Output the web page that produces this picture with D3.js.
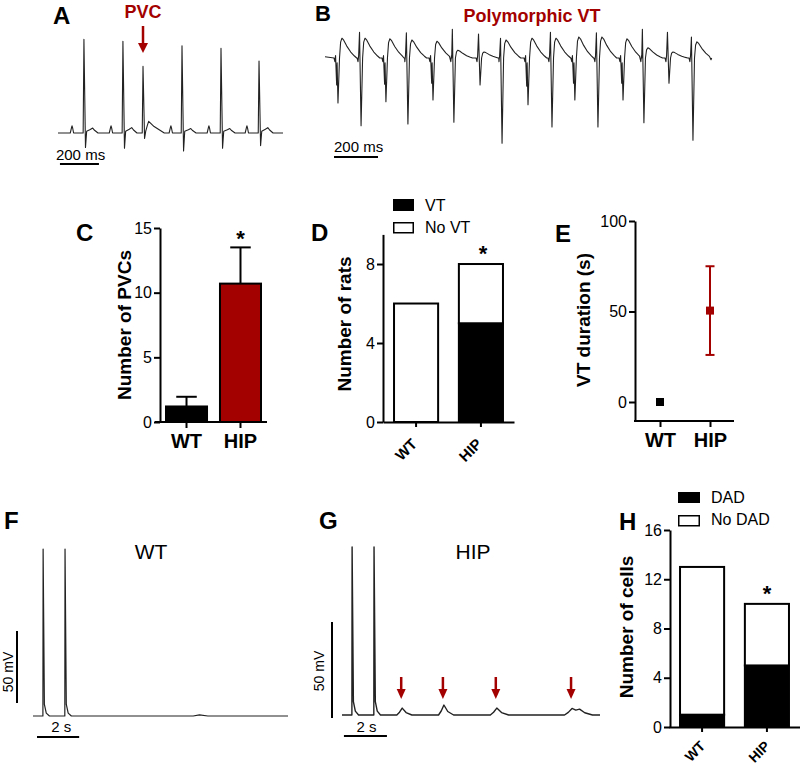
<!DOCTYPE html>
<html><head><meta charset="utf-8">
<script src="https://cdn.jsdelivr.net/npm/d3@7"></script>
<style>body{margin:0;background:#fff}svg{display:block}text{font-family:"Liberation Sans",Arial,sans-serif}</style>
</head><body><svg id="fig" width="800" height="767"></svg>
<script>
// ---------------- DATA ----------------
const groups = ["WT", "HIP"];
// C: number of PVCs (mean, SEM)
const pvcMean = [1.2, 10.7];
const pvcSem = [0.75, 2.8];
const pvcTicks = [0, 5, 10, 15];
// D: rats with / without VT
const ratsVT = [0, 5];
const ratsNoVT = [6, 3];
const ratTicks = [0, 4, 8];
// E: VT duration (s)
const vtDurMean = [0, 50.5];
const vtDurSem = [0, 24.5];
const durTicks = [0, 50, 100];
// H: cells with / without DAD
const cellsDAD = [1, 5];
const cellsNoDAD = [12, 5];
const cellTicks = [0, 4, 8, 12, 16];

// A: ECG with PVC (time ms, amplitude mV)
const ecgA_span = [0, 1154];
const ecgA_time = [133, 333, 436, 636, 836, 1031];
const ecgA_R = [1.04, 1.02, 0.74, 0.97, 0.94, 0.80];
const ecgA_S = [-0.16, -0.17, -0.06, -0.20, -0.17, -0.14];
const ecgA_Ttime = [178, 378, 465, 681, 881, 1076];
const ecgA_Tamp = [0.055, 0.06, 0.13, 0.05, 0.05, 0.06];
const ecgA_Tend = [205, 405, 545, 708, 908, 1103];
const ecgA_Ptime = [72, 272, 579, 774, 969];
const ecgA_Pamp = [0.08, 0.08, 0.08, 0.08, 0.08];

// B: polymorphic VT (time ms, amplitude mV)
const ecgB_span = [0, 1755];
const ecgB_time = [59, 164, 277, 377, 491, 586, 705, 805, 923, 1032, 1136, 1241, 1355, 1450, 1564, 1673];
const ecgB_up = [0, 0.43, 0, 0.42, 0, 0.48, 0.40, 0.33, 0, 0.43, 0, 0.42, 0, 0.48, 0.43, 0.35];
const ecgB_down = [-0.75, -1.13, -0.73, -1.10, -0.70, -1.07, -0.45, -1.42, -0.78, -1.15, -0.70, -1.15, -0.70, -1.08, -0.42, -1.37];
const ecgB_hump = [0.33, 0.33, 0.32, 0.30, 0.28, 0.13, 0.10, 0.30, 0.33, 0.33, 0.35, 0.35, 0.32, 0.17, 0.10, 0.27];

// F: WT myocyte membrane potential (time s, mV)
const apF_span = [0, 12.1];
const apF_rest = -80;
const apF_time = [0.48, 1.52];
const apF_peak = [36, 36];
const bumpF_time = [7.9];
const bumpF_amp = [0.8];

// G: HIP myocyte membrane potential (time s, mV)
const apG_span = [0, 12];
const apG_rest = -80;
const apG_time = [0.47, 1.49];
const apG_peak = [7.5, 7.5];
const dadG_time = [2.8, 4.74, 7.2, 10.7];
const dadG_amp = [3.6, 5.2, 3.6, 3.4];
const dadG_rise = [0.25, 0.25, 0.3, 0.35];
const dadG_fall = [0.45, 0.45, 0.55, 0.6];
const dadG_plateau = [0, 0, 0, 0.35];

// ---------------- DRAWING ----------------
const svg = d3.select("#fig");
const RED = "#a30000";
const FONT = "Liberation Sans, Arial, sans-serif";

function letter(t, x, y, size) {
  svg.append("text").attr("x", x).attr("y", y).attr("font-size", size || 24)
    .attr("font-weight", "bold").text(t);
}
function ylabel(t, x, y) {
  svg.append("text").attr("transform", `translate(${x},${y}) rotate(-90)`)
    .attr("text-anchor", "middle").attr("font-size", 19).attr("font-weight", "bold").text(t);
}
function styleAxis(g) {
  g.attr("font-family", FONT).attr("font-size", 16);
  g.selectAll("path.domain").attr("stroke", "#000").attr("stroke-width", 2);
  g.selectAll(".tick line").attr("stroke", "#000").attr("stroke-width", 2);
  g.selectAll(".tick text").attr("fill", "#000");
}
function yAxis(scale, ticks, x) {
  const g = svg.append("g").attr("transform", `translate(${x},0)`)
    .call(d3.axisLeft(scale).tickValues(ticks).tickSize(6).tickSizeOuter(0).tickPadding(2));
  styleAxis(g);
  return g;
}
function trace(points, xs, ys, width) {
  const line = d3.line().x(d => xs(d[0])).y(d => ys(d[1]));
  points.sort((a, b) => a[0] - b[0]);
  svg.append("path").attr("d", line(points)).attr("fill", "none")
    .attr("stroke", "#222").attr("stroke-width", width || 1.1).attr("stroke-linejoin", "round");
}
function hbar(x1, x2, y) {
  svg.append("line").attr("x1", x1).attr("x2", x2).attr("y1", y).attr("y2", y)
    .attr("stroke", "#000").attr("stroke-width", 2);
}
function vbar(x, y1, y2) {
  svg.append("line").attr("x1", x).attr("x2", x).attr("y1", y1).attr("y2", y2)
    .attr("stroke", "#000").attr("stroke-width", 2);
}
function downArrow(x, y1, y2, head, w) {
  svg.append("line").attr("x1", x).attr("x2", x).attr("y1", y1).attr("y2", y2 - head + 1)
    .attr("stroke", RED).attr("stroke-width", 2.5);
  svg.append("path").attr("d", `M${x - w / 2},${y2 - head}L${x + w / 2},${y2 - head}L${x},${y2}Z`).attr("fill", RED);
}

// ===== Panel A =====
{
  const xA = d3.scaleLinear().domain(ecgA_span).range([58, 283]);
  const yA = d3.scaleLinear().domain([0, 1]).range([133, 43]);
  const pts = [[ecgA_span[0], 0], [ecgA_span[1], 0]];
  ecgA_Ptime.forEach((t, i) => { pts.push([t - 9, 0], [t - 2, ecgA_Pamp[i] * 0.8], [t, ecgA_Pamp[i]], [t + 3, ecgA_Pamp[i] * 0.7], [t + 8, 0]); });
  ecgA_time.forEach((t, i) => {
    const tt = ecgA_Ttime[i], te = ecgA_Tend[i], ta = ecgA_Tamp[i];
    pts.push([t - 4, 0], [t, ecgA_R[i]], [t + 8, ecgA_S[i]], [t + 14, 0.02],
      [tt - (tt - t - 14) * 0.4, ta * 0.7], [tt, ta], [tt + (te - tt) * 0.35, ta * 0.55], [te, 0]);
  });
  trace(pts, xA, yA, 1.1);
  letter("A", 53, 24);
  svg.append("text").attr("x", xA(ecgA_time[2])).attr("y", 18).attr("text-anchor", "middle")
    .attr("font-size", 18).attr("font-weight", "bold").attr("fill", RED).text("PVC");
  downArrow(xA(ecgA_time[2]), 26, 53, 10, 10);
  hbar(xA(10), xA(210), 164);
  svg.append("text").attr("x", xA(10) - 4).attr("y", 160).attr("font-size", 15).text("200 ms");
}

// ===== Panel B =====
{
  const xB = d3.scaleLinear().domain(ecgB_span).range([325, 711]);
  const yB = d3.scaleLinear().domain([0, 1]).range([58, -2]);
  const pts = [[ecgB_span[0], 0.02], [ecgB_span[1], -0.03]];
  ecgB_time.forEach((t, i) => {
    const h = ecgB_hump[i];
    pts.push([t - 18, 0], [t - 14, -0.06], [t - 11, 0.04]);
    if (ecgB_up[i] > 0) pts.push([t - 7, ecgB_up[i]]);
    else pts.push([t - 6, ecgB_down[i] * 0.6], [t - 4, -0.08]);
    pts.push([t, ecgB_down[i]], [t + 7, 0], [t + 12, h * 0.8], [t + 18, h], [t + 26, h * 0.9],
      [t + 40, h * 0.6], [t + 58, h * 0.3], [t + 75, h * 0.1], [t + 85, 0]);
  });
  trace(pts, xB, yB, 1.1);
  letter("B", 315, 21, 22);
  svg.append("text").attr("x", 532).attr("y", 22).attr("text-anchor", "middle")
    .attr("font-size", 18).attr("font-weight", "bold").attr("fill", RED).text("Polymorphic VT");
  hbar(xB(41), xB(241), 157);
  svg.append("text").attr("x", xB(41)).attr("y", 152).attr("font-size", 15).text("200 ms");
}

// ===== Panel C =====
{
  const yC = d3.scaleLinear().domain([0, 15]).range([422, 228]);
  const xC = d3.scaleBand().domain(groups).range([155.2, 271.8]).paddingInner(0.24).paddingOuter(0.2);
  const bw = xC.bandwidth();
  groups.forEach((g, i) => {
    const cx = xC(g) + bw / 2;
    svg.append("line").attr("x1", cx).attr("x2", cx).attr("y1", yC(pvcMean[i])).attr("y2", yC(pvcMean[i] + pvcSem[i]))
      .attr("stroke", "#000").attr("stroke-width", 2);
    svg.append("line").attr("x1", cx - bw / 4).attr("x2", cx + bw / 4)
      .attr("y1", yC(pvcMean[i] + pvcSem[i])).attr("y2", yC(pvcMean[i] + pvcSem[i]))
      .attr("stroke", "#000").attr("stroke-width", 2);
  });
  svg.selectAll(".barC").data(groups).enter().append("rect")
    .attr("x", g => xC(g)).attr("width", bw)
    .attr("y", (g, i) => yC(pvcMean[i])).attr("height", (g, i) => yC(0) - yC(pvcMean[i]))
    .attr("fill", (g, i) => i === 0 ? "#000" : RED).attr("stroke", "#000").attr("stroke-width", 2);
  yAxis(yC, pvcTicks, 160);
  const gx = svg.append("g").attr("transform", `translate(0,${yC(0)})`)
    .call(d3.axisBottom(xC).tickSize(6).tickPadding(6).tickSizeOuter(0));
  styleAxis(gx);
  gx.select("path.domain").remove();
  gx.selectAll(".tick text").attr("font-size", 20).attr("font-weight", "bold");
  hbar(155, xC(groups[1]) + bw + 6, yC(0));
  svg.append("text").attr("x", xC("HIP") + bw / 2).attr("y", yC(pvcMean[1] + pvcSem[1]) - 1)
    .attr("text-anchor", "middle").attr("font-size", 22).attr("font-weight", "bold").text("*");
  letter("C", 76, 241);
  ylabel("Number of PVCs", 131, 325);
}

// ===== Panel D =====
{
  const yD = d3.scaleLinear().domain([0, 9.5]).range([422, 234.4]);
  const xD = d3.scaleBand().domain(groups).range([383, 514]).paddingInner(0.32).paddingOuter(0.17);
  const bw = xD.bandwidth();
  const table = groups.map((g, i) => ({ group: g, VT: ratsVT[i], NoVT: ratsNoVT[i] }));
  const stacked = d3.stack().keys(["VT", "NoVT"])(table);
  svg.selectAll(".serD").data(stacked).enter().append("g")
    .attr("fill", d => d.key === "VT" ? "#000" : "#fff")
    .selectAll("rect").data(d => d.filter(s => s[1] > s[0])).enter().append("rect")
    .attr("x", d => xD(d.data.group)).attr("width", bw)
    .attr("y", d => yD(d[1])).attr("height", d => yD(d[0]) - yD(d[1]))
    .attr("stroke", "#000").attr("stroke-width", 2);
  yAxis(yD, ratTicks, 383);
  const gx = svg.append("g").attr("transform", `translate(0,${yD(0)})`)
    .call(d3.axisBottom(xD).tickSize(5).tickSizeOuter(0));
  styleAxis(gx);
  gx.selectAll(".tick text").remove();
  groups.forEach(g => {
    const tx = xD(g) + bw / 2 + 2;
    svg.append("text").attr("transform", `translate(${tx},445) rotate(-45)`)
      .attr("text-anchor", "end").attr("font-size", 15).attr("font-weight", "bold").text(g);
  });
  svg.append("text").attr("x", xD("HIP") + bw / 2 + 2).attr("y", yD(ratsVT[1] + ratsNoVT[1]) - 3)
    .attr("text-anchor", "middle").attr("font-size", 22).attr("font-weight", "bold").text("*");
  svg.append("rect").attr("x", 393).attr("y", 199).attr("width", 21).attr("height", 12).attr("fill", "#000");
  svg.append("rect").attr("x", 393.75).attr("y", 222.75).attr("width", 19.5).attr("height", 10)
    .attr("fill", "#fff").attr("stroke", "#000").attr("stroke-width", 1.5);
  svg.append("text").attr("x", 425).attr("y", 211).attr("font-size", 16).text("VT");
  svg.append("text").attr("x", 425).attr("y", 233).attr("font-size", 16).text("No VT");
  letter("D", 311, 241);
  ylabel("Number of rats", 351, 324);
}

// ===== Panel E =====
{
  const yE = d3.scaleLinear().domain([-10.5, 100]).range([421, 221]);
  const xE = d3.scalePoint().domain(groups).range([635, 735]).padding(0.5);
  yAxis(yE, durTicks, 635);
  const gx = svg.append("g").attr("transform", `translate(0,${yE(-10.5)})`)
    .call(d3.axisBottom(xE).tickSize(6).tickPadding(6).tickSizeOuter(0));
  styleAxis(gx);
  gx.select("path.domain").remove();
  gx.selectAll(".tick text").attr("font-size", 20).attr("font-weight", "bold");
  hbar(634, 734, yE(-10.5));
  groups.forEach((g, i) => {
    const col = i === 0 ? "#000" : RED;
    const cx = xE(g);
    if (vtDurSem[i] > 0) {
      svg.append("line").attr("x1", cx).attr("x2", cx)
        .attr("y1", yE(vtDurMean[i] - vtDurSem[i])).attr("y2", yE(vtDurMean[i] + vtDurSem[i]))
        .attr("stroke", col).attr("stroke-width", 2);
      [vtDurMean[i] - vtDurSem[i], vtDurMean[i] + vtDurSem[i]].forEach(v => {
        svg.append("line").attr("x1", cx - 4.5).attr("x2", cx + 4.5).attr("y1", yE(v)).attr("y2", yE(v))
          .attr("stroke", col).attr("stroke-width", 2);
      });
    }
    svg.append("rect").attr("x", cx - 4).attr("y", yE(vtDurMean[i]) - 4).attr("width", 8).attr("height", 8).attr("fill", col);
  });
  letter("E", 555, 242);
  ylabel("VT duration (s)", 590, 320);
}

// ===== Panel F =====
{
  const xF = d3.scaleLinear().domain(apF_span).range([33, 288]);
  const yF = d3.scaleLinear().domain([apF_rest, 36]).range([716, 549]);
  const pts = [[apF_span[0], apF_rest], [apF_span[1], apF_rest]];
  apF_time.forEach((t, i) => {
    pts.push([t - 0.01, apF_rest], [t, apF_peak[i]], [t + 0.06, apF_rest + 8], [t + 0.15, apF_rest + 2], [t + 0.3, apF_rest]);
  });
  bumpF_time.forEach((t, i) => { pts.push([t - 0.3, apF_rest], [t, apF_rest + bumpF_amp[i]], [t + 0.4, apF_rest]); });
  trace(pts, xF, yF, 1.2);
  letter("F", 4, 529);
  svg.append("text").attr("x", 151).attr("y", 559).attr("text-anchor", "middle")
    .attr("font-family", "Open Sans, Liberation Sans, sans-serif").attr("font-size", 21).text("WT");
  const barLen = yF(apF_rest) - yF(apF_rest + 50);
  vbar(17, 703 - barLen, 703);
  svg.append("text").attr("transform", `translate(13,672) rotate(-90)`).attr("text-anchor", "middle")
    .attr("font-size", 14).text("50 mV");
  hbar(xF(0.19), xF(2.19), 737);
  svg.append("text").attr("x", xF(1.34)).attr("y", 732).attr("text-anchor", "middle").attr("font-size", 15).text("2 s");
}

// ===== Panel G =====
{
  const xG = d3.scaleLinear().domain(apG_span).range([342, 600]);
  const yG = d3.scaleLinear().domain([apG_rest, 7.5]).range([715, 547]);
  const pts = [[apG_span[0], apG_rest], [apG_span[1], apG_rest]];
  apG_time.forEach((t, i) => {
    pts.push([t - 0.01, apG_rest], [t, apG_peak[i]], [t + 0.06, apG_rest + 7], [t + 0.15, apG_rest + 2], [t + 0.3, apG_rest]);
  });
  dadG_time.forEach((t, i) => {
    const a = dadG_amp[i], r = dadG_rise[i], p = dadG_plateau[i], f = dadG_fall[i];
    pts.push([t - r, apG_rest], [t - r * 0.5, apG_rest + a * 0.4], [t, apG_rest + a]);
    if (p > 0) pts.push([t + p * 0.5, apG_rest + a * 0.75], [t + p, apG_rest + a * 0.9]);
    pts.push([t + p + f * 0.4, apG_rest + a * 0.35], [t + p + f, apG_rest]);
  });
  trace(pts, xG, yG, 1.4);
  letter("G", 319, 529);
  svg.append("text").attr("x", 473).attr("y", 559).attr("text-anchor", "middle")
    .attr("font-family", "Open Sans, Liberation Sans, sans-serif").attr("font-size", 21).text("HIP");
  dadG_time.forEach(t => downArrow(xG(t) - 1, 677, 699, 10, 9));
  const barLen = yG(apG_rest) - yG(apG_rest + 50);
  vbar(332, 718 - barLen, 718);
  svg.append("text").attr("transform", `translate(324,671) rotate(-90)`).attr("text-anchor", "middle")
    .attr("font-size", 14).text("50 mV");
  hbar(xG(0.09), xG(2.09), 736);
  svg.append("text").attr("x", xG(1.14)).attr("y", 732).attr("text-anchor", "middle").attr("font-size", 15).text("2 s");
}

// ===== Panel H =====
{
  const yH = d3.scaleLinear().domain([0, 16]).range([727, 530]);
  const xH = d3.scaleBand().domain(groups).range([669, 800]).paddingInner(0.32).paddingOuter(0.17);
  const bw = xH.bandwidth();
  const table = groups.map((g, i) => ({ group: g, DAD: cellsDAD[i], NoDAD: cellsNoDAD[i] }));
  const stacked = d3.stack().keys(["DAD", "NoDAD"])(table);
  svg.selectAll(".serH").data(stacked).enter().append("g")
    .attr("fill", d => d.key === "DAD" ? "#000" : "#fff")
    .selectAll("rect").data(d => d.filter(s => s[1] > s[0])).enter().append("rect")
    .attr("x", d => xH(d.data.group)).attr("width", bw)
    .attr("y", d => yH(d[1])).attr("height", d => yH(d[0]) - yH(d[1]))
    .attr("stroke", "#000").attr("stroke-width", 2);
  yAxis(yH, cellTicks, 670);
  const gx = svg.append("g").attr("transform", `translate(0,${yH(0)})`)
    .call(d3.axisBottom(xH).tickSize(5).tickSizeOuter(0));
  styleAxis(gx);
  gx.selectAll(".tick text").remove();
  groups.forEach(g => {
    const tx = xH(g) + bw / 2 + 4;
    svg.append("text").attr("transform", `translate(${tx},747) rotate(-45)`)
      .attr("text-anchor", "end").attr("font-size", 14).attr("font-weight", "bold").text(g);
  });
  svg.append("text").attr("x", xH("HIP") + bw / 2).attr("y", yH(cellsDAD[1] + cellsNoDAD[1]) - 3)
    .attr("text-anchor", "middle").attr("font-size", 22).attr("font-weight", "bold").text("*");
  svg.append("rect").attr("x", 678).attr("y", 492).attr("width", 22).attr("height", 11).attr("fill", "#000");
  svg.append("rect").attr("x", 678.75).attr("y", 515.75).attr("width", 20.5).attr("height", 10)
    .attr("fill", "#fff").attr("stroke", "#000").attr("stroke-width", 1.5);
  svg.append("text").attr("x", 711).attr("y", 503).attr("font-size", 16).text("DAD");
  svg.append("text").attr("x", 711).attr("y", 525).attr("font-size", 16).text("No DAD");
  letter("H", 619, 530);
  ylabel("Number of cells", 633, 627);
}
</script></body></html>
